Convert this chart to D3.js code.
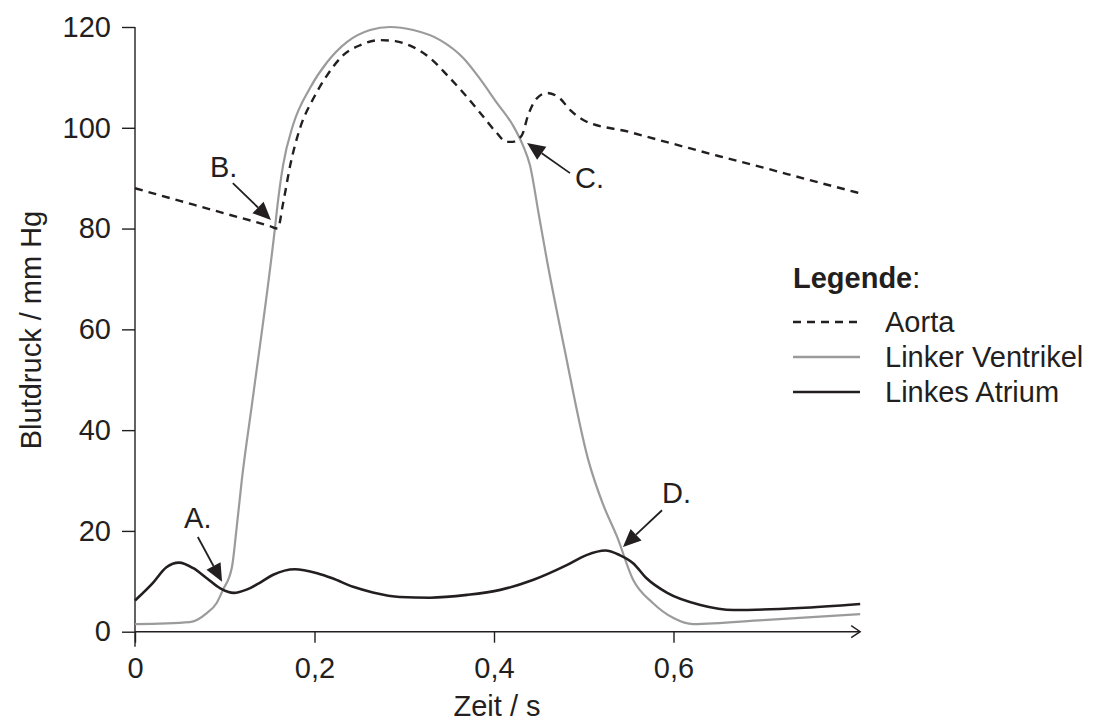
<!DOCTYPE html>
<html>
<head>
<meta charset="utf-8">
<script src="https://cdn.jsdelivr.net/npm/d3@7"></script>
<style>
    body { margin: 0; background: #fff; }
    text { font-family: "Liberation Sans", Arial, sans-serif; fill: #231f20; }
</style>
</head>
<body>
<div id="chart"></div>
<script>
// Zeitpunkte (s) und Druckwerte (mm Hg)
const aortaT = [0, 0.05, 0.1, 0.15, 0.159, 0.165, 0.173, 0.184, 0.199, 0.214, 0.232, 0.251, 0.273, 0.29, 0.31, 0.329, 0.348, 0.366, 0.384, 0.403, 0.414, 0.421, 0.431, 0.438, 0.448, 0.459, 0.473, 0.485, 0.5, 0.55, 0.6, 0.65, 0.7, 0.75, 0.808]
const aortaP = [88, 85.5, 83, 80.5, 80, 85, 92.6, 100, 105.9, 110.4, 114.4, 116.4, 117.4, 117.2, 116, 113.8, 110.4, 106.9, 103.1, 99, 97.2, 97.2, 98.5, 102.5, 105.9, 106.9, 105.9, 103.5, 101.5, 99.2, 96.8, 94.4, 92.1, 89.7, 87]

const ventrikelT = [0, 0.061, 0.08, 0.091, 0.098, 0.108, 0.113, 0.119, 0.131, 0.156, 0.159, 0.165, 0.176, 0.195, 0.214, 0.236, 0.262, 0.284, 0.31, 0.34, 0.366, 0.384, 0.403, 0.421, 0.432, 0.44, 0.45, 0.459, 0.478, 0.505, 0.521, 0.537, 0.555, 0.577, 0.6, 0.622, 0.7, 0.808]
const ventrikelP = [1.5, 1.9, 3.7, 5.7, 8.3, 12.8, 20.2, 30.1, 46, 80.2, 85, 92.6, 100.5, 107.9, 113, 117, 119.4, 120, 119.4, 117.4, 113.8, 109.8, 105, 100.5, 96.6, 92.6, 82.7, 73.7, 56.6, 34.1, 25.5, 18.9, 10.3, 5.7, 2.7, 1.5, 2.3, 3.5]

const atriumT = [0, 0.02, 0.035, 0.049, 0.065, 0.08, 0.095, 0.11, 0.125, 0.139, 0.154, 0.178, 0.203, 0.22, 0.243, 0.265, 0.295, 0.329, 0.37, 0.407, 0.444, 0.481, 0.503, 0.524, 0.54, 0.555, 0.57, 0.593, 0.63, 0.667, 0.74, 0.808]
const atriumP = [6.2, 9.7, 12.8, 13.7, 12.6, 10.6, 8.6, 7.7, 8.4, 9.7, 11.3, 12.4, 11.6, 10.6, 8.9, 7.8, 6.9, 6.75, 7.3, 8.3, 10.3, 13.2, 15.2, 16.1, 15.2, 13.6, 10.6, 7.7, 5.3, 4.3, 4.7, 5.5]

const xTicks = [0, 0.2, 0.4, 0.6]
const yTicks = [0, 20, 40, 60, 80, 100, 120]
const xEnd = 0.808

// Markierungen A-D: Pfeilende, Pfeilspitze, Beschriftung (in Datenwerten)
const marks = [
    { label: "A.", tail: [0.070, 18.8], tip: [0.097, 9.9], text: [0.070, 20.6], anchor: "middle" },
    { label: "B.", tail: [0.109, 89.0], tip: [0.1515, 81.7], text: [0.0836, 90.2], anchor: "start" },
    { label: "C.", tail: [0.4847, 91.0], tip: [0.4368, 97.0], text: [0.4903, 88.0], anchor: "start" },
    { label: "D.", tail: [0.5872, 24.1], tip: [0.5437, 16.8], text: [0.5872, 25.5], anchor: "start" }
]

const legendNames = ["Aorta", "Linker Ventrikel", "Linkes Atrium"]

const width = 1093
const height = 722
const ink = "#231f20"
const grey = "#9b9b9b"
const fontSize = 29

const svg = d3.select("#chart").append("svg").attr("width", width).attr("height", height)

const x = d3.scaleLinear().domain([0, 0.6]).range([135, 673.5])
const y = d3.scaleLinear().domain([0, 120]).range([631.7, 27])

// Achsen
const xAxis = svg.append("g").attr("transform", `translate(0,${y(0)})`)
    .call(d3.axisBottom(x).tickValues(xTicks).tickSize(11).tickPadding(15)
        .tickFormat(d => d === 0 ? "0" : d3.format(".1f")(d).replace(".", ",")))
xAxis.select(".domain").remove()
xAxis.selectAll("line").attr("stroke", ink).attr("stroke-width", 1.4)
xAxis.selectAll("text").attr("font-size", fontSize).attr("font-family", null).attr("fill", ink)

const yAxis = svg.append("g").attr("transform", `translate(${x(0)},0)`)
    .call(d3.axisLeft(y).tickValues(yTicks).tickSize(13).tickPadding(11))
yAxis.select(".domain").remove()
yAxis.selectAll("line").attr("stroke", ink).attr("stroke-width", 1.4)
yAxis.selectAll("text").attr("font-size", fontSize).attr("font-family", null).attr("fill", ink)

svg.append("line").attr("x1", x(0)).attr("x2", x(0)).attr("y1", y(120)).attr("y2", y(0) + 15)
    .attr("stroke", ink).attr("stroke-width", 1.4)
svg.append("line").attr("x1", x(0)).attr("x2", x(xEnd)).attr("y1", y(0)).attr("y2", y(0))
    .attr("stroke", ink).attr("stroke-width", 1.4)
svg.append("path").attr("d", `M${x(xEnd) - 9},${y(0) - 6}L${x(xEnd)},${y(0)}L${x(xEnd) - 9},${y(0) + 6}`)
    .attr("fill", "none").attr("stroke", ink).attr("stroke-width", 1.4)

svg.append("text").attr("x", 497).attr("y", 716).attr("text-anchor", "middle").attr("font-size", fontSize).text("Zeit / s")
svg.append("text").attr("transform", "translate(41,330) rotate(-90)").attr("text-anchor", "middle").attr("font-size", fontSize).text("Blutdruck / mm Hg")

// Kurven
const line = d3.line().x(d => x(d[0])).y(d => y(d[1])).curve(d3.curveMonotoneX)
const zip = (ts, ps) => ts.map((t, i) => [t, ps[i]])

svg.append("path").datum(zip(ventrikelT, ventrikelP)).attr("d", line)
    .attr("fill", "none").attr("stroke", grey).attr("stroke-width", 2.2)
svg.append("path").datum(zip(aortaT, aortaP)).attr("d", line)
    .attr("fill", "none").attr("stroke", ink).attr("stroke-width", 2.4).attr("stroke-dasharray", "8,6")
svg.append("path").datum(zip(atriumT, atriumP)).attr("d", line)
    .attr("fill", "none").attr("stroke", ink).attr("stroke-width", 2.6)

// Pfeile
marks.forEach(m => {
    const x0 = x(m.tail[0]), y0 = y(m.tail[1])
    const x1 = x(m.tip[0]), y1 = y(m.tip[1])
    const len = Math.hypot(x1 - x0, y1 - y0)
    const ux = (x1 - x0) / len, uy = (y1 - y0) / len
    const head = 18, half = 8
    const bx = x1 - ux * head, by = y1 - uy * head
    svg.append("line").attr("x1", x0).attr("y1", y0).attr("x2", bx).attr("y2", by)
        .attr("stroke", ink).attr("stroke-width", 1.8)
    svg.append("polygon")
        .attr("points", `${x1},${y1} ${bx - uy * half},${by + ux * half} ${bx + uy * half},${by - ux * half}`)
        .attr("fill", ink)
    svg.append("text").attr("x", x(m.text[0])).attr("y", y(m.text[1])).attr("text-anchor", m.anchor)
        .attr("font-size", fontSize).text(m.label)
})

// Legende
const legend = svg.append("g").attr("transform", "translate(793,0)")
const title = legend.append("text").attr("x", 0).attr("y", 288).attr("font-size", fontSize)
title.append("tspan").attr("font-weight", "bold").text("Legende")
title.append("tspan").text(":")

const legendStyles = [
    { stroke: ink, dash: "8,6", w: 2.4 },
    { stroke: grey, dash: null, w: 2.4 },
    { stroke: ink, dash: null, w: 2.6 }
]
legendNames.forEach((name, i) => {
    const ly = 322 + i * 35
    legend.append("line").attr("x1", 0).attr("x2", 67).attr("y1", ly).attr("y2", ly)
        .attr("stroke", legendStyles[i].stroke).attr("stroke-width", legendStyles[i].w)
        .attr("stroke-dasharray", legendStyles[i].dash)
    legend.append("text").attr("x", 92).attr("y", ly).attr("dy", "0.35em").attr("font-size", fontSize).text(name)
})
</script>
</body>
</html>
